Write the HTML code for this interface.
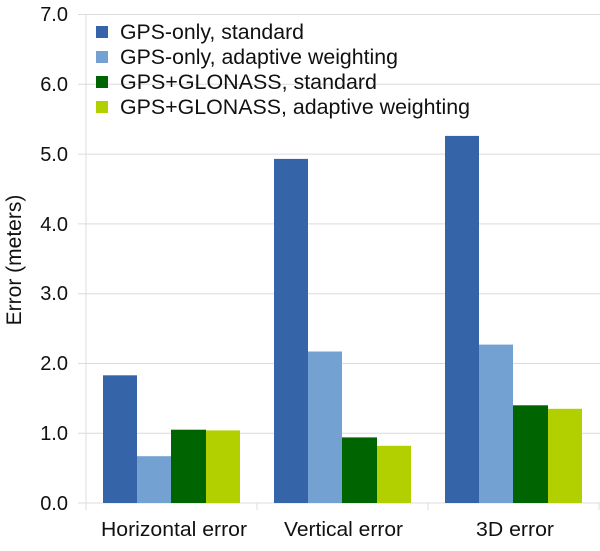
<!DOCTYPE html>
<html><head><style>body{margin:0;background:#fff}</style></head><body>
<svg width="600" height="546" xmlns="http://www.w3.org/2000/svg" font-family="Liberation Sans, sans-serif">
<g stroke="#dcdcdc" stroke-width="1">
<line x1="78" y1="14.5" x2="600" y2="14.5"/>
<line x1="78" y1="84.3" x2="600" y2="84.3"/>
<line x1="78" y1="154.1" x2="600" y2="154.1"/>
<line x1="78" y1="223.9" x2="600" y2="223.9"/>
<line x1="78" y1="293.7" x2="600" y2="293.7"/>
<line x1="78" y1="363.5" x2="600" y2="363.5"/>
<line x1="78" y1="433.3" x2="600" y2="433.3"/>
<line x1="78" y1="503" x2="600" y2="503"/>
<line x1="86" y1="14" x2="86" y2="510"/>
<line x1="257" y1="503" x2="257" y2="510"/>
<line x1="428" y1="503" x2="428" y2="510"/>
<line x1="599" y1="503" x2="599" y2="510"/>
</g>
<g font-size="20" fill="#111" text-anchor="end">
<text x="68" y="21">7.0</text><text x="68" y="91">6.0</text><text x="68" y="161">5.0</text>
<text x="68" y="231">4.0</text><text x="68" y="300">3.0</text><text x="68" y="370">2.0</text>
<text x="68" y="440">1.0</text><text x="68" y="510">0.0</text>
</g>
<text transform="translate(21,260) rotate(-90)" font-size="21" text-anchor="middle" fill="#111">Error (meters)</text>
<g>
<rect x="103" y="375.3" width="34" height="127.7" fill="#3565a8"/>
<rect x="137" y="456.2" width="34" height="46.8" fill="#73a1d2"/>
<rect x="171" y="429.7" width="35" height="73.3" fill="#006400"/>
<rect x="206" y="430.4" width="34" height="72.6" fill="#b2d000"/>
<rect x="274" y="158.9" width="34" height="344.1" fill="#3565a8"/>
<rect x="308" y="351.5" width="34" height="151.5" fill="#73a1d2"/>
<rect x="342" y="437.4" width="35" height="65.6" fill="#006400"/>
<rect x="377" y="445.8" width="34" height="57.2" fill="#b2d000"/>
<rect x="445" y="135.9" width="34" height="367.1" fill="#3565a8"/>
<rect x="479" y="344.6" width="34" height="158.4" fill="#73a1d2"/>
<rect x="513" y="405.3" width="35" height="97.7" fill="#006400"/>
<rect x="548" y="408.8" width="34" height="94.2" fill="#b2d000"/>
</g>
<g font-size="20" fill="#111">
<text x="101" y="536" textLength="146" lengthAdjust="spacingAndGlyphs">Horizontal error</text>
<text x="284" y="536" textLength="119" lengthAdjust="spacingAndGlyphs">Vertical error</text>
<text x="476" y="536" textLength="78" lengthAdjust="spacingAndGlyphs">3D error</text>
</g>
<g font-size="21" fill="#111">
<rect x="96" y="26" width="12" height="12" fill="#3565a8"/><text x="120" y="39" textLength="184" lengthAdjust="spacingAndGlyphs">GPS-only, standard</text>
<rect x="96" y="51" width="12" height="12" fill="#73a1d2"/><text x="120" y="64" textLength="278" lengthAdjust="spacingAndGlyphs">GPS-only, adaptive weighting</text>
<rect x="96" y="76" width="12" height="12" fill="#006400"/><text x="120" y="89" textLength="257" lengthAdjust="spacingAndGlyphs">GPS+GLONASS, standard</text>
<rect x="96" y="101" width="12" height="12" fill="#b2d000"/><text x="120" y="114" textLength="350" lengthAdjust="spacingAndGlyphs">GPS+GLONASS, adaptive weighting</text>
</g>
</svg>
</body></html>
